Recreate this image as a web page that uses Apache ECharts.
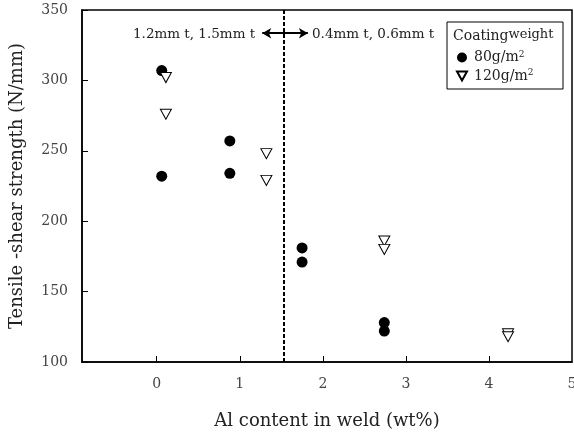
<!DOCTYPE html>
<html><head><meta charset="utf-8">
<script src="https://cdn.jsdelivr.net/npm/echarts@6/dist/echarts.min.js"></script>
<style>html,body{margin:0;padding:0;background:#fff}#c{width:574px;height:436px}</style>
</head><body><div id="c"></div>
<script>
// Data (Al content wt%, tensile-shear strength N/mm)
const coat80X = [0.06, 0.06, 0.88, 0.88, 1.75, 1.75, 2.74, 2.74];
const coat80Y = [307, 232, 257, 234, 181, 171, 128, 122];
const coat120X = [0.11, 0.11, 1.32, 1.32, 2.74, 2.74, 4.23, 4.23];
const coat120Y = [302, 276, 248, 229, 186, 180, 120, 118];
const xTicks = [0, 1, 2, 3, 4, 5];
const yTicks = [100, 150, 200, 250, 300, 350];
const dividerX = 1.53;
const arrowFrom = [1.27, 333.5];
const arrowTo = [1.82, 333.5];
const seriesNames = ['80g/m{s|2}', '120g/m{s|2}'];

const FONT = 'DejaVu Serif';
const chart = echarts.init(document.getElementById('c'));
const zip = (xs, ys) => xs.map((x, i) => [x, ys[i]]);

chart.setOption({
  animation: false,
  textStyle: { fontFamily: FONT },
  grid: { left: 82, right: 2, top: 10, bottom: 74, show: true, borderColor: '#000', borderWidth: 1.5,
    containLabel: false, outerBoundsMode: 'none' },
  xAxis: {
    type: 'value', min: -0.9, max: 5,
    name: 'Al content in weld (wt%)', nameLocation: 'middle', nameGap: 50,
    nameTextStyle: { fontFamily: FONT, fontSize: 18, color: '#222' },
    axisLine: { onZero: false, lineStyle: { color: '#000', width: 1.5 } },
    axisTick: { inside: true, length: 6, customValues: xTicks.slice(0, 5), lineStyle: { color: '#000' } },
    axisLabel: { customValues: xTicks, fontFamily: FONT, fontSize: 14, color: '#444', margin: 15 },
    splitLine: { show: false }
  },
  yAxis: {
    type: 'value', min: yTicks[0], max: yTicks[yTicks.length - 1], interval: 50,
    name: 'Tensile -shear strength (N/mm)', nameLocation: 'middle', nameGap: 56,
    nameTextStyle: { fontFamily: FONT, fontSize: 18, color: '#222' },
    axisLine: { onZero: false, lineStyle: { color: '#000', width: 1.5 } },
    axisTick: { inside: true, length: 6, lineStyle: { color: '#000' } },
    axisLabel: { fontFamily: FONT, fontSize: 14, color: '#444', margin: 14 },
    splitLine: { show: false }
  },
  legend: {
    orient: 'vertical', left: 451, top: 45, itemGap: 4, itemWidth: 10, itemHeight: 10,
    textStyle: { fontFamily: FONT, fontSize: 14, color: '#222', padding: [0, 0, 0, 2],
      rich: { s: { fontSize: 9, verticalAlign: 'top', padding: [0, 0, 6, 0], fontFamily: FONT, color: '#222' } } },
    data: seriesNames
  },
  graphic: [
    { type: 'rect', shape: { x: 447, y: 22, width: 116, height: 67 }, style: { fill: 'none', stroke: '#000', lineWidth: 1 } },
    { type: 'text', left: 453, top: 28, style: { text: 'Coating{w|weight}', font: '14px "DejaVu Serif"', fill: '#222',
      rich: { w: { fontSize: 13, fontFamily: FONT, fill: '#222', padding: [0, 0, 3, 0] } } } },
    { type: 'text', left: 133, top: 27, style: { text: '1.2mm t, 1.5mm t', font: '13.5px "DejaVu Serif"', fill: '#222' } },
    { type: 'text', left: 312, top: 27, style: { text: '0.4mm t, 0.6mm t', font: '13.5px "DejaVu Serif"', fill: '#222' } }
  ],
  series: [
    {
      name: seriesNames[0], type: 'scatter', symbol: 'circle', symbolSize: 11,
      itemStyle: { color: '#000', opacity: 1 }, data: zip(coat80X, coat80Y),
      markLine: {
        silent: true, symbol: 'none', label: { show: false },
        lineStyle: { color: '#000', type: [4, 2], width: 2 },
        data: [{ xAxis: dividerX }]
      }
    },
    {
      name: seriesNames[1], type: 'scatter', symbol: 'path://M0,0 L10,0 L5,9 Z', symbolSize: [11, 10],
      itemStyle: { color: '#fff', borderColor: '#000', borderWidth: 1, opacity: 1 }, data: zip(coat120X, coat120Y),
      markLine: {
        silent: true, symbol: ['arrow', 'arrow'], symbolSize: [8, 9], label: { show: false },
        lineStyle: { color: '#000', type: 'solid', width: 2 },
        data: [[{ coord: arrowFrom }, { coord: arrowTo }]]
      }
    }
  ]
});
</script></body></html>
